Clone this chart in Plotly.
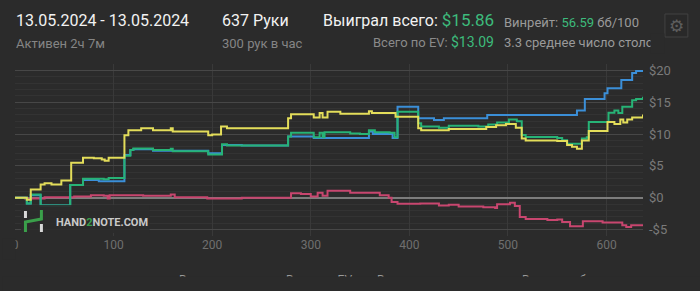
import plotly.graph_objects as go

# ---------------- data ----------------
X_TICKS = [0, 100, 200, 300, 400, 500, 600]
Y_TICKS = [-5, 0, 5, 10, 15, 20]
Y_TICK_LABELS = ["-$5", "$0", "$5", "$10", "$15", "$20"]

# non-showdown winnings (pink)
NSD_HANDS = [0, 10, 30, 60, 77, 90, 94, 96, 130, 158, 162, 195, 230, 280, 290, 300, 307, 312, 317, 340, 370,
             379, 382, 388, 411, 430, 440, 450, 475, 487, 489, 502, 507, 512, 518, 540, 550, 555, 563, 576, 596,
             616, 620, 625, 637]
NSD_VALUES = [0, -0.1, 0.1, 0.2, 0.4, 0.3, -0.1, 0.4, 0.3, 0.5, 0.1, -0.1, 0.0, 0.7, 0.6, 0.2, 0.8, 0.3, 1.1,
              0.8, 0.4, 0.0, -0.65, -0.95, -0.9, -1.2, -1.1, -1.35, -1.5, -1.6, -1.0, -0.8, -1.3, -3.0, -3.35,
              -3.5, -3.4, -3.8, -4.45, -3.7, -3.9, -4.3, -4.6, -4.3, -4.14]

# showdown winnings (blue)
SD_HANDS = [0, 12, 16, 26, 56, 69, 85, 111, 117, 120, 140, 196, 210, 230, 277, 303, 359, 363, 383, 388, 409,
            425, 435, 479, 570, 578, 598, 601, 615, 626, 630, 637]
SD_VALUES = [0, -0.9, 0.4, -1.2, 2.0, 2.8, 2.6, 6.7, 7.5, 7.6, 7.4, 7.0, 8.3, 8.2, 9.6, 9.4, 10.4, 10.0, 9.4,
             14.3, 12.5, 12.2, 12.5, 13.0, 13.7, 15.5, 16.4, 17.2, 18.5, 19.6, 19.9, 20.0]

# total won (green)
WON_HANDS = [0, 12, 16, 26, 56, 69, 90, 95, 111, 117, 120, 140, 158, 160, 196, 210, 215, 277, 280, 303, 309,
             312, 314, 340, 350, 359, 365, 380, 385, 388, 409, 412, 430, 440, 470, 480, 489, 501, 509, 514, 518,
             550, 555, 560, 575, 580, 582, 600, 602, 608, 612, 616, 626, 630, 637]
WON_VALUES = [0, -0.9, 0.5, -1.2, 2.0, 3.0, 2.9, 3.1, 6.6, 7.5, 7.75, 7.5, 7.7, 7.3, 6.8, 8.4, 8.2, 9.6, 10.2,
              9.5, 10.2, 9.5, 10.3, 10.1, 10.0, 10.6, 10.3, 10.2, 9.5, 13.5, 11.7, 11.2, 11.0, 11.3, 11.2, 11.5,
              11.8, 12.3, 12.0, 9.85, 9.55, 9.4, 9.05, 8.5, 9.3, 9.5, 11.9, 11.9, 13.35, 13.7, 13.3, 14.3, 15.3,
              15.5, 15.86]

# EV winnings (yellow)
EV_HANDS = [0, 12, 16, 26, 30, 37, 47, 57, 69, 80, 88, 91, 95, 111, 115, 128, 140, 158, 160, 196, 200, 209,
            215, 277, 280, 303, 309, 312, 317, 330, 359, 362, 386, 409, 412, 440, 470, 478, 488, 498, 508, 514,
            518, 550, 560, 565, 570, 575, 582, 600, 601, 608, 614, 617, 621, 626, 637]
EV_VALUES = [0, -0.3, 1.3, 2.1, 2.3, 2.1, 2.7, 5.5, 6.3, 6.2, 6.0, 5.8, 6.3, 9.8, 10.6, 10.9, 10.6, 10.9, 10.4,
             9.8, 9.95, 11.2, 10.9, 12.5, 13.1, 12.6, 13.3, 12.6, 13.5, 13.2, 13.6, 13.3, 12.7, 10.9, 10.6, 10.8,
             10.8, 11.1, 11.4, 11.6, 11.0, 9.3, 9.0, 8.9, 8.3, 8.0, 7.7, 9.0, 10.5, 10.5, 11.9, 11.6, 12.3, 11.8,
             12.3, 12.6, 13.09]

SERIES = [
    (NSD_HANDS, NSD_VALUES, "#c8466f"),
    (SD_HANDS, SD_VALUES, "#3b8fd8"),
    (WON_HANDS, WON_VALUES, "#27b376"),
    (EV_HANDS, EV_VALUES, "#e3dd5a"),
]

LEGEND_TEXTS = ["Выиграно всего", "Всего по EV", "Выигрыш на шоудауне", "Выигрыш без шоудауна"]

# ---------------- figure ----------------
W, H = 700, 291
ML, MR, MT, MB = 13, 57, 64, 55
PW, PH = W - ML - MR, H - MT - MB
BG = "#2b2b2b"
GREEN = "#3dbb7c"
GRAY = "#8c8c8c"
FONT = "Roboto"


def px_x(px):
    return (px - ML) / PW


def px_y(py):
    return (H - MB - py) / PH


fig = go.Figure()
for hx, vy, col in SERIES:
    fig.add_trace(go.Scatter(x=hx, y=vy, mode="lines",
                             line=dict(color=col, width=2, shape="hv"),
                             hoverinfo="skip", showlegend=False))

fig.update_layout(
    width=W, height=H, autosize=False,
    margin=dict(l=ML, r=MR, t=MT, b=MB, pad=0),
    paper_bgcolor=BG, plot_bgcolor=BG,
    font=dict(family=FONT, color=GRAY),
    showlegend=False,
    xaxis=dict(range=[0, 637], tickvals=X_TICKS, showgrid=True, gridcolor="#393939", gridwidth=1,
               zeroline=False, showline=False, ticks="",
               tickfont=dict(size=12, color="#6f6f6f", family=FONT), fixedrange=True),
    yaxis=dict(range=[-6, 21], side="right", tickvals=Y_TICKS, ticktext=Y_TICK_LABELS,
               showgrid=True, gridcolor="#474747", gridwidth=1,
               minor=dict(dtick=1, showgrid=True, gridcolor="#333333", gridwidth=1),
               zeroline=True, zerolinecolor="#7c7c7c", zerolinewidth=2,
               showline=False, ticks="", ticklabelstandoff=5,
               tickfont=dict(size=13, color="#7a7a7a", family=FONT), fixedrange=True),
)

ann = []


def text(px, py, s, size, color, xanchor="left", yanchor="middle"):
    ann.append(dict(x=px_x(px), y=px_y(py), xref="paper", yref="paper", text=s, showarrow=False,
                    xanchor=xanchor, yanchor=yanchor, font=dict(size=size, color=color, family=FONT)))


def cover(x0, y0, x1, y1, color=BG):
    ann.append(dict(x=px_x(x0), y=px_y(y0), xref="paper", yref="paper", text=" ", showarrow=False,
                    xanchor="left", yanchor="top", width=x1 - x0, height=y1 - y0, bgcolor=color,
                    borderpad=0, font=dict(size=4)))


# header
text(12, 20, "13.05.2024 - 13.05.2024", 16, "#f2f2f2")
text(12, 43, "Активен 2ч 7м", 13, "#858585")
text(219, 20, "637 Руки", 16, "#f2f2f2")
text(219, 43, "300 рук в час", 13, "#858585")
text(496, 20, "Выиграл всего: <span style='font-size:17px;color:%s'>$15.86</span>" % GREEN,
     16, "#f2f2f2", xanchor="right")
text(496, 42, "Всего по EV: <span style='font-size:14px;color:%s'>$13.09</span>" % GREEN,
     13, "#8a8a8a", xanchor="right")
text(502, 22, "Винрейт: <span style='color:%s'>56.59</span> бб/100" % GREEN, 13, "#9a9a9a")
text(502, 42, "3.3 среднее число столов", 13, "#9a9a9a")

# watermark
ann.append(dict(x=px_x(52), y=px_y(222), xref="paper", yref="paper",
                text="<b>HAND<span style='color:#3a9f4a'>2</span>NOTE.COM</b>", showarrow=False,
                xanchor="left", yanchor="middle", font=dict(size=11, color="#c9c9c9", family=FONT)))

# bottom legend (mostly hidden under the panel edge)
for lx, lt in zip([176, 283, 374, 520], LEGEND_TEXTS):
    text(lx, 271, lt, 12, "#9a9a9a", yanchor="top")

# clip overflows
cover(650, 33, 663, 52)      # table-count text overflow
cover(0, 238, 12, 258)       # left "0" tick clipped
cover(0, 276, 700, 291)      # bottom edge hiding legend

ann.append(dict(x=px_x(676.5), y=px_y(25.5), xref="paper", yref="paper", text="⚙", showarrow=False,
                xanchor="center", yanchor="middle",
                font=dict(size=17, color="#5e5e5e", family="DejaVu Sans")))

fig.update_layout(annotations=ann)

shapes = []
# watermark backdrop
shapes.append(dict(type="rect", xref="paper", yref="paper", x0=px_x(19), x1=px_x(148), y0=px_y(233),
                   y1=px_y(205), fillcolor=BG, line=dict(width=0), layer="above", opacity=0.9))
# logo
shapes.append(dict(type="line", xref="paper", yref="paper", x0=px_x(23.5), x1=px_x(23.5), y0=px_y(211),
                   y1=px_y(218), line=dict(color="#d8d8d8", width=3), layer="above"))
shapes.append(dict(type="line", xref="paper", yref="paper", x0=px_x(39.5), x1=px_x(39.5), y0=px_y(224),
                   y1=px_y(232), line=dict(color="#d8d8d8", width=3), layer="above"))
shapes.append(dict(type="path", xref="paper", yref="paper",
                   path="M %f %f L %f %f L %f %f L %f %f" % (px_x(23.5), px_y(232), px_x(23.5), px_y(222),
                                                             px_x(39.5), px_y(219), px_x(39.5), px_y(210)),
                   line=dict(color="#3a9f4a", width=3), layer="above"))
# settings button
shapes.append(dict(type="rect", xref="paper", yref="paper", x0=px_x(665), x1=px_x(688), y0=px_y(37),
                   y1=px_y(14), fillcolor="#292929", line=dict(color="#424242", width=1), layer="above"))
fig.update_layout(shapes=shapes)

fig.write_html("out.html", config={"displayModeBar": False, "staticPlot": True})
